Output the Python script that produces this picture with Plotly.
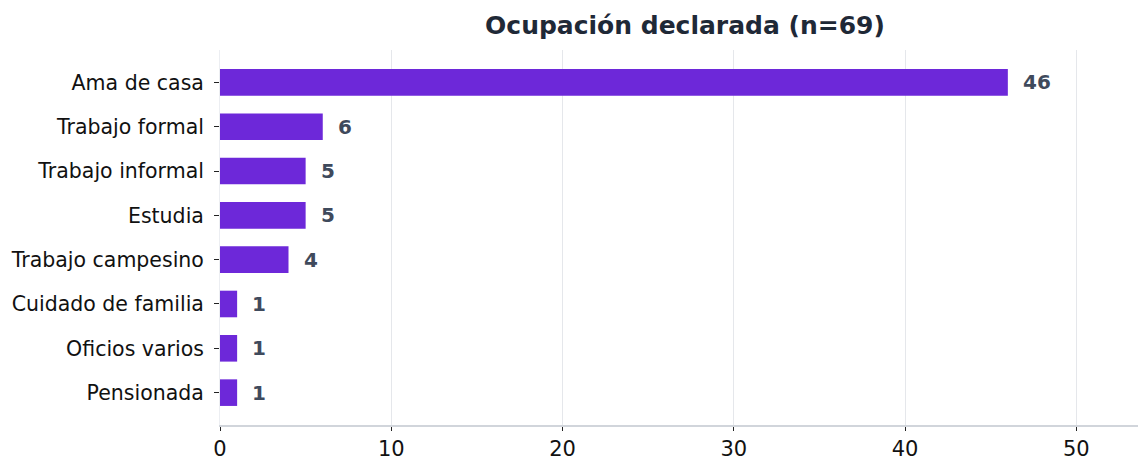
import plotly.graph_objects as go

categorias = ["Ama de casa", "Trabajo formal", "Trabajo informal", "Estudia",
              "Trabajo campesino", "Cuidado de familia", "Oficios varios", "Pensionada"]
valores = [46, 6, 5, 5, 4, 1, 1, 1]
titulo = "Ocupación declarada (n=69)"

fig = go.Figure()
fig.add_trace(go.Bar(
    x=valores,
    y=categorias,
    orientation="h",
    width=0.6,
    marker=dict(color="#6d28d9", line=dict(width=0)),
))

for cat, val in zip(categorias, valores):
    fig.add_annotation(
        x=val, y=cat,
        text="<b>%d</b>" % val,
        showarrow=False,
        xanchor="left",
        xshift=13,
        font=dict(family="DejaVu Sans", size=20, color="#3f4a5c"),
    )

fig.update_layout(
    width=1138,
    height=462,
    margin=dict(l=220, r=0, t=50, b=37),
    plot_bgcolor="white",
    paper_bgcolor="white",
    showlegend=False,
    title=dict(
        text="<b>" + titulo + "</b>",
        x=685 / 1138,
        xanchor="center",
        y=1 - 25 / 462,
        yanchor="middle",
        font=dict(family="DejaVu Sans", size=25, color="#1f2937"),
    ),
    font=dict(family="DejaVu Sans", color="#111111"),
)

fig.update_xaxes(
    range=[0, 53.6],
    tickvals=[0, 10, 20, 30, 40, 50],
    showgrid=True,
    gridcolor="#e5e7eb",
    gridwidth=1,
    zeroline=False,
    showline=True,
    linecolor="#d1d5db",
    linewidth=1.5,
    ticks="outside",
    ticklen=4,
    tickcolor="#222222",
    tickfont=dict(size=21, color="#111111"),
)

fig.update_yaxes(
    autorange=False,
    range=[7.73, -0.73],
    categoryorder="array",
    categoryarray=categorias,
    showgrid=False,
    zeroline=False,
    showline=True,
    linecolor="#eceef2",
    linewidth=1,
    ticks="outside",
    ticklen=5,
    tickcolor="#222222",
    ticklabelstandoff=6,
    tickfont=dict(size=20.5, color="#111111"),
)

# drop the default 8px body margin so the figure fills the window exactly
fig.write_html("out.html",
               config={"displayModeBar": False},
               post_script="document.body.style.margin='0';")
